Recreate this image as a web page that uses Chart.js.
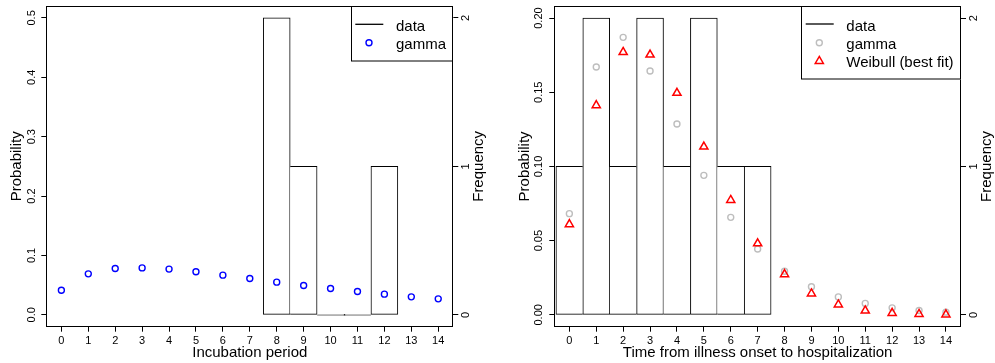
<!DOCTYPE html>
<html><head><meta charset="utf-8">
<script src="https://cdn.jsdelivr.net/npm/chart.js@4.4.1/dist/chart.umd.min.js"></script>
<style>
html,body{margin:0;padding:0;background:#fff;overflow:hidden}
#wrap{position:relative;width:995px;height:363px;background:#fff}
canvas{position:absolute;top:0}
</style></head><body>
<div id="wrap">
<canvas id="c1" width="497" height="363" style="left:0px"></canvas>
<canvas id="c2" width="498" height="363" style="left:497px"></canvas>
</div>
<script>
// ---- data ----
const days = [0,1,2,3,4,5,6,7,8,9,10,11,12,13,14];
const incubationGamma = [0.0415,0.069,0.078,0.079,0.077,0.0724,0.0668,0.0612,0.055,0.0494,0.0443,0.0393,0.0348,0.0303,0.0269];
const incubationDays = [8,9,10,11,12];
const incubationCounts = [2,1,0,0,1];
const hospDays = [0,1,2,3,4,5,6,7];
const hospCounts = [1,2,1,2,1,2,1,1];
const hospGamma = [0.0682,0.167,0.187,0.1643,0.1286,0.094,0.0657,0.0444,0.0294,0.0189,0.0121,0.0077,0.0047,0.0029,0.0018];
const hospWeibull = [0.061,0.1412,0.177,0.1753,0.1495,0.1133,0.0773,0.0481,0.0273,0.0143,0.0069,0.0028,0.0012,0.0005,0.0002];
const xTickValues = days;
const probTicksLeft = [0,0.1,0.2,0.3,0.4,0.5];
const probTicksRight = [0,0.05,0.1,0.15,0.2];
const freqTicks = [0,1,2];

Chart.defaults.font.family = "'Liberation Sans', Arial, sans-serif";
Chart.defaults.color = '#000';

function barBorder(ctx){
  const d = ctx.dataset.data, i = ctx.dataIndex, v = d[i].y;
  const p = i > 0 ? d[i-1].y : undefined;
  const n = i < d.length-1 ? d[i+1].y : undefined;
  return {top:1, bottom:1, left:(p!==undefined && p>v)?0:1, right:(n!==undefined && n>=v)?0:1};
}

function overlay(spec){
  return {id:'overlay', afterDraw(chart){
    const {ctx, chartArea:a} = chart;
    ctx.save();
    ctx.strokeStyle = '#000'; ctx.lineWidth = 1;
    const L = Math.round(a.left)+0.5, T = Math.round(a.top)+0.5;
    const R = Math.round(a.right)-0.5, B = Math.floor(a.bottom)+0.5;
    ctx.strokeRect(L, T, R-L, B-T);
    // legend
    const lx = a.right - spec.w, ly = a.top;
    ctx.fillStyle = '#fff';
    ctx.fillRect(lx, ly, spec.w, spec.h);
    ctx.strokeRect(Math.round(lx)+0.5, T, R - Math.round(lx) - 0.5, Math.round(spec.h)-0.5);
    ctx.font = '15px "Liberation Sans", Arial, sans-serif';
    ctx.textAlign = 'left'; ctx.textBaseline = 'alphabetic';
    spec.items.forEach(it => {
      const mx = lx + spec.markX;
      if (it.type === 'line') {
        ctx.strokeStyle = '#000'; ctx.lineWidth = 1.3;
        ctx.beginPath(); ctx.moveTo(lx+spec.lineX0, it.y); ctx.lineTo(lx+spec.lineX1, it.y); ctx.stroke();
      } else if (it.type === 'circle') {
        ctx.strokeStyle = it.color; ctx.lineWidth = 1.4;
        ctx.beginPath(); ctx.arc(mx, it.y, 3, 0, Math.PI*2); ctx.stroke();
      } else if (it.type === 'triangle') {
        const r = 4.7;
        ctx.strokeStyle = it.color; ctx.lineWidth = 1.5;
        ctx.beginPath();
        ctx.moveTo(mx, it.y - r);
        ctx.lineTo(mx + r*Math.sqrt(3)/2, it.y + r/2);
        ctx.lineTo(mx - r*Math.sqrt(3)/2, it.y + r/2);
        ctx.closePath(); ctx.stroke();
      }
      ctx.fillStyle = '#000';
      ctx.fillText(it.label, lx + spec.textX, it.base);
    });
    // right axis title (reads bottom to top)
    ctx.translate(spec.freqX, (a.top + a.bottom)/2);
    ctx.rotate(-Math.PI/2);
    ctx.textAlign = 'center'; ctx.textBaseline = 'middle';
    ctx.fillStyle = '#000';
    ctx.fillText('Frequency', 0, 0);
    ctx.restore();
  }};
}

function makePanel(canvasId, cfg){
  const gridOpt = {drawOnChartArea:false, drawTicks:true, tickLength:5, color:'#000', lineWidth:1, offset:false};
  return new Chart(document.getElementById(canvasId), {
    type: 'bar',
    data: {datasets: cfg.datasets},
    options: {
      responsive:false, animation:false, devicePixelRatio:1, events:[],
      layout:{padding:{top:6, left:0, right:0, bottom:0}},
      plugins:{legend:{display:false}, tooltip:{enabled:false}},
      scales:{
        x:{type:'linear', position:'bottom', min:-0.56, max:14.56, offset:false,
          afterBuildTicks:s=>{s.ticks = xTickValues.map(v=>({value:v}));},
          afterFit:s=>{s.height = 36.3; s.paddingLeft = 0; s.paddingRight = 0;},
          ticks:{autoSkip:false, maxRotation:0, minRotation:0, padding:3, font:{size:11}, color:'#000', callback:v=>String(v)},
          grid:gridOpt, border:{display:false},
          title:{display:true, text:cfg.xTitle, font:{size:15}, color:'#000', padding:{top:0, bottom:1}}},
        y:{type:'linear', position:'left', min:cfg.yMin, max:cfg.yMax,
          afterBuildTicks:s=>{s.ticks = cfg.yTicks.map(v=>({value:v}));},
          afterFit:s=>{s.width = cfg.yWidth; s.paddingTop = 0; s.paddingBottom = 0;},
          ticks:{minRotation:90, maxRotation:90, crossAlign:'center', padding:cfg.yPad, font:{size:11}, color:'#000', callback:v=>v.toFixed(cfg.yDec)},
          grid:gridOpt, border:{display:false},
          title:{display:true, text:'Probability', font:{size:15}, color:'#000', padding:{top:cfg.yTitlePad, bottom:0}}},
        y2:{type:'linear', position:'right', min:-0.08, max:2.08,
          afterBuildTicks:s=>{s.ticks = freqTicks.map(v=>({value:v}));},
          afterFit:s=>{s.width = cfg.y2Width; s.paddingTop = 0; s.paddingBottom = 0;},
          ticks:{minRotation:90, maxRotation:90, crossAlign:'center', padding:5, font:{size:11}, color:'#000', callback:v=>String(v)},
          grid:gridOpt, border:{display:false}}
      }
    },
    plugins:[overlay(cfg.legend)]
  });
}

const barStyle = {type:'bar', yAxisID:'y2', xAxisID:'x', backgroundColor:'#fff', borderColor:'#000',
  borderWidth:barBorder, borderSkipped:false, categoryPercentage:1, barPercentage:1, minBarLength:1, order:3};
const ptStyle = {type:'line', yAxisID:'y', xAxisID:'x', showLine:false, backgroundColor:'rgba(0,0,0,0)'};

makePanel('c1', {
  xTitle:'Incubation period', yMin:-0.02, yMax:0.52, yTicks:probTicksLeft, yDec:1,
  yWidth:46.3, yPad:2, yTitlePad:7.7, y2Width:43.7,
  datasets:[
    Object.assign({}, barStyle, {label:'data', data:incubationDays.map((d,i)=>({x:d, y:incubationCounts[i]}))}),
    Object.assign({}, ptStyle, {label:'gamma', order:2, data:days.map((d,i)=>({x:d, y:incubationGamma[i]})),
      pointStyle:'circle', pointRadius:3, pointBorderWidth:1.4, borderColor:'#0000FF', pointBorderColor:'#0000FF'})
  ],
  legend:{w:102.3, h:55, lineX0:4.3, lineX1:32.3, markX:18, textX:45, freqX:479.3,
    items:[{type:'line', y:24.3, base:30.7, label:'data'},
           {type:'circle', color:'#0000FF', y:42.7, base:48.7, label:'gamma'}]}
});

makePanel('c2', {
  xTitle:'Time from illness onset to hospitalization', yMin:-0.008, yMax:0.208, yTicks:probTicksRight, yDec:2,
  yWidth:57.3, yPad:0, yTitlePad:18.8, y2Width:34,
  datasets:[
    Object.assign({}, barStyle, {label:'data', data:hospDays.map((d,i)=>({x:d, y:hospCounts[i]}))}),
    Object.assign({}, ptStyle, {label:'gamma', order:2, data:days.map((d,i)=>({x:d, y:hospGamma[i]})),
      pointStyle:'circle', pointRadius:3, pointBorderWidth:1.4, borderColor:'#BEBEBE', pointBorderColor:'#BEBEBE'}),
    Object.assign({}, ptStyle, {label:'Weibull (best fit)', order:1, data:days.map((d,i)=>({x:d, y:hospWeibull[i]})),
      pointStyle:'triangle', pointRadius:4.7, pointBorderWidth:1.5, borderColor:'#FF0000', pointBorderColor:'#FF0000'})
  ],
  legend:{w:160, h:73.3, lineX0:4.7, lineX1:32.7, markX:18.3, textX:45.3, freqX:490,
    items:[{type:'line', y:24, base:30.7, label:'data'},
           {type:'circle', color:'#BEBEBE', y:42.7, base:48.7, label:'gamma'},
           {type:'triangle', color:'#FF0000', y:61.1, base:66.7, label:'Weibull (best fit)'}]}
});
</script>
</body></html>
